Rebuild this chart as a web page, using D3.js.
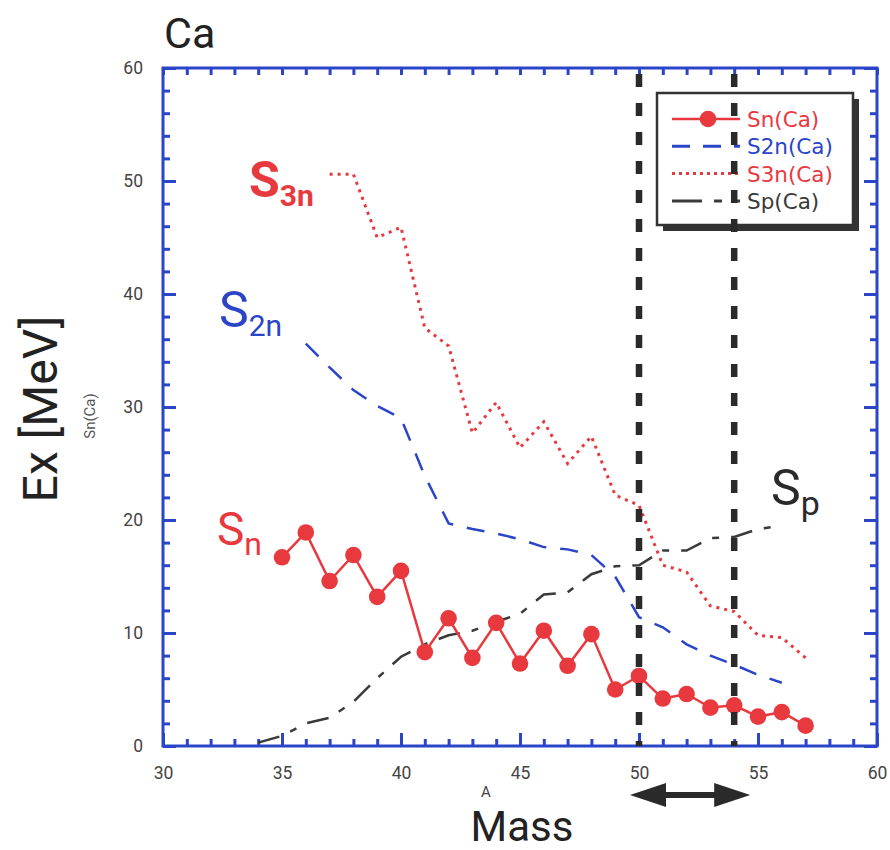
<!DOCTYPE html>
<html>
<head>
<meta charset="utf-8">
<script src="https://cdn.jsdelivr.net/npm/d3@7"></script>
<style>
  html, body { margin: 0; padding: 0; background: #fff; }
  svg { display: block; font-family: Roboto, "Noto Sans", sans-serif; }
</style>
</head>
<body>
<svg id="chart" width="890" height="850"></svg>
<script>
// Separation energies of calcium isotopes (MeV) versus mass number A
const massSn = d3.range(35, 58);
const sn = [16.7, 18.9, 14.6, 16.9, 13.2, 15.5, 8.3, 11.3, 7.8, 10.9, 7.3, 10.2,
            7.1, 9.9, 5.0, 6.2, 4.2, 4.6, 3.4, 3.6, 2.6, 3.0, 1.8];

const massS2n = d3.range(36, 57);
const s2n = [35.6, 33.5, 31.5, 30.1, 29.0, 23.9, 19.7, 19.2, 18.8, 18.3, 17.6,
             17.4, 16.9, 15.0, 11.4, 10.5, 9.0, 8.0, 7.2, 6.3, 5.6];

const massS3n = d3.range(37, 58);
const s3n = [50.6, 50.6, 45.0, 45.9, 37.0, 35.4, 27.7, 30.4, 26.4, 28.7, 25.0,
             27.4, 22.2, 21.3, 16.0, 15.4, 12.4, 11.9, 9.8, 9.6, 7.8];

const massSp = d3.range(34, 57);
const sp = [0.3, 0.9, 2.0, 2.5, 3.9, 6.0, 7.9, 9.0, 9.8, 10.2, 11.0, 11.7, 13.4,
            13.6, 15.2, 15.9, 16.0, 17.3, 17.3, 18.4, 18.5, 19.2, 19.5];

const xTicks = [30, 35, 40, 45, 50, 55, 60];
const yTicks = [0, 10, 20, 30, 40, 50, 60];
const markerMasses = [50, 54];
const legendLabels = ["Sn(Ca)", "S2n(Ca)", "S3n(Ca)", "Sp(Ca)"];

const RED = "#e8393f", BLUE = "#2b45c9", DARK = "#2a2a2a", GRAY = "#3a3a3a";

const svg = d3.select("#chart");
const x = d3.scaleLinear().domain([30, 60]).range([163, 877]);
const y = d3.scaleLinear().domain([0, 60]).range([746, 68]);

// ----- axes (ticks point into the plot) -----
function styleAxis(g) {
  g.select(".domain").remove();
  g.selectAll(".tick line").attr("stroke", BLUE).attr("stroke-width", 3);
  g.selectAll(".tick text").attr("fill", "#444").attr("font-size", 17.5)
    .attr("font-family", "Roboto, sans-serif");
}
const axes = svg.append("g");
axes.append("g").attr("transform", `translate(0,${y(0)})`)
  .call(d3.axisBottom(x).tickValues(d3.range(30, 61)).tickSize(-7).tickFormat(""))
  .call(styleAxis);
axes.append("g").attr("transform", `translate(0,${y(0)})`)
  .call(d3.axisBottom(x).tickValues(xTicks).tickSize(-13).tickPadding(21).tickFormat(d3.format("d")))
  .call(styleAxis);
axes.append("g").attr("transform", `translate(0,${y(60)})`)
  .call(d3.axisTop(x).tickValues(d3.range(30, 61)).tickSize(-7).tickFormat(""))
  .call(styleAxis);
axes.append("g").attr("transform", `translate(${x(30)},0)`)
  .call(d3.axisLeft(y).tickValues(d3.range(0, 61, 2)).tickSize(-7).tickFormat(""))
  .call(styleAxis);
axes.append("g").attr("transform", `translate(${x(30)},0)`)
  .call(d3.axisLeft(y).tickValues(yTicks).tickSize(-13).tickPadding(20).tickFormat(d3.format("d")))
  .call(styleAxis);
axes.append("g").attr("transform", `translate(${x(60)},0)`)
  .call(d3.axisRight(y).tickValues(d3.range(0, 61, 2)).tickSize(-7).tickFormat(""))
  .call(styleAxis);
axes.append("g").attr("transform", `translate(${x(60)},0)`)
  .call(d3.axisRight(y).tickValues(yTicks).tickSize(-13).tickFormat(""))
  .call(styleAxis);
svg.append("rect")
  .attr("x", x(30)).attr("y", y(60))
  .attr("width", x(60) - x(30)).attr("height", y(0) - y(60))
  .attr("fill", "none").attr("stroke", BLUE).attr("stroke-width", 3);

// ----- series -----
const line = d3.line().x(d => x(d[0])).y(d => y(d[1]));
const plot = svg.append("g");

plot.append("path").datum(d3.zip(massSp, sp)).attr("d", line)
  .attr("fill", "none").attr("stroke", GRAY).attr("stroke-width", 2.5)
  .attr("stroke-dasharray", "22,12,7,12");

plot.append("path").datum(d3.zip(massS2n, s2n)).attr("d", line)
  .attr("fill", "none").attr("stroke", BLUE).attr("stroke-width", 2.5)
  .attr("stroke-dasharray", "18,14");

plot.append("path").datum(d3.zip(massS3n, s3n)).attr("d", line)
  .attr("fill", "none").attr("stroke", RED).attr("stroke-width", 3)
  .attr("stroke-dasharray", "3,5");

plot.append("path").datum(d3.zip(massSn, sn)).attr("d", line)
  .attr("fill", "none").attr("stroke", RED).attr("stroke-width", 2.5);
plot.selectAll("circle.sn").data(d3.zip(massSn, sn)).join("circle")
  .attr("class", "sn")
  .attr("cx", d => x(d[0])).attr("cy", d => y(d[1])).attr("r", 8.3)
  .attr("fill", RED);

// ----- legend -----
const lg = svg.append("g").attr("transform", "translate(657,93)");
const lw = 196, lh = 132;
lg.append("rect").attr("x", 6).attr("y", 6).attr("width", lw).attr("height", lh)
  .attr("fill", "#333");
lg.append("rect").attr("x", 0).attr("y", 0).attr("width", lw).attr("height", lh)
  .attr("fill", "#fff").attr("stroke", "#333").attr("stroke-width", 2.5);
const legendStyles = [
  { color: RED, dash: null, width: 2.5, marker: true, text: RED },
  { color: BLUE, dash: "18,13", width: 3, marker: false, text: BLUE },
  { color: RED, dash: "3,4", width: 3, marker: false, text: RED },
  { color: GRAY, dash: "30,12,8,12", width: 3, marker: false, text: GRAY }
];
legendLabels.forEach((label, i) => {
  const st = legendStyles[i];
  const cy = 26 + i * 27.3;
  lg.append("line").attr("x1", 15).attr("x2", 83).attr("y1", cy).attr("y2", cy)
    .attr("stroke", st.color).attr("stroke-width", st.width)
    .attr("stroke-dasharray", st.dash);
  if (st.marker) lg.append("circle").attr("cx", 51).attr("cy", cy).attr("r", 8.3).attr("fill", st.color);
  lg.append("text").attr("x", 90).attr("y", cy + 8).attr("fill", st.text)
    .attr("font-family", "'DejaVu Sans', sans-serif")
    .attr("font-size", 21.5).text(label);
});

// ----- vertical markers at A = 50 and 54 -----
svg.append("g").selectAll("line").data(markerMasses).join("line")
  .attr("x1", d => x(d)).attr("x2", d => x(d))
  .attr("y1", y(60) + 6).attr("y2", y(0))
  .attr("stroke", DARK).attr("stroke-width", 6.5)
  .attr("stroke-dasharray", "13,16");

// ----- series labels -----
function subLabel(xp, yp, main, sub, color, weight, size, subSize) {
  const t = svg.append("text").attr("x", xp).attr("y", yp).attr("fill", color)
    .attr("font-weight", weight).attr("font-size", size);
  t.append("tspan").text(main);
  t.append("tspan").attr("font-size", subSize).attr("dy", subSize * 0.3).text(sub);
}
subLabel(249, 197, "S", "3n", RED, 700, 50, 30);
subLabel(219, 327, "S", "2n", BLUE, 400, 50, 30);
subLabel(217, 545, "S", "n", RED, 400, 46, 32);
subLabel(771, 505, "S", "p", DARK, 400, 50, 34);

// ----- titles -----
svg.append("text").attr("x", 164).attr("y", 48).attr("font-size", 43)
  .attr("fill", "#222").text("Ca");

svg.append("text")
  .attr("transform", "translate(57,409) rotate(-90)")
  .attr("text-anchor", "middle").attr("font-size", 48).attr("fill", "#222")
  .text("Ex [MeV]");
svg.append("text")
  .attr("transform", "translate(95,416) rotate(-90)")
  .attr("text-anchor", "middle").attr("font-size", 15).attr("fill", "#555")
  .text("Sn(Ca)");

svg.append("text").attr("x", 522).attr("y", 841).attr("text-anchor", "middle")
  .attr("font-size", 42).attr("fill", "#222").text("Mass");
svg.append("text").attr("x", 486).attr("y", 797).attr("text-anchor", "middle")
  .attr("font-size", 15).attr("fill", "#444").text("A");

// ----- double-headed arrow below the marker range -----
const ay = 795;
const ag = svg.append("g").attr("fill", DARK);
ag.append("rect").attr("x", x(50) + 20).attr("y", ay - 3).attr("width", x(54) - x(50) - 20).attr("height", 6);
ag.append("path").attr("d", `M${x(50) - 9},${ay} L${x(50) + 27},${ay - 12} L${x(50) + 27},${ay + 12} Z`);
ag.append("path").attr("d", `M${x(54) + 16},${ay} L${x(54) - 20},${ay - 12} L${x(54) - 20},${ay + 12} Z`);
</script>
</body>
</html>
